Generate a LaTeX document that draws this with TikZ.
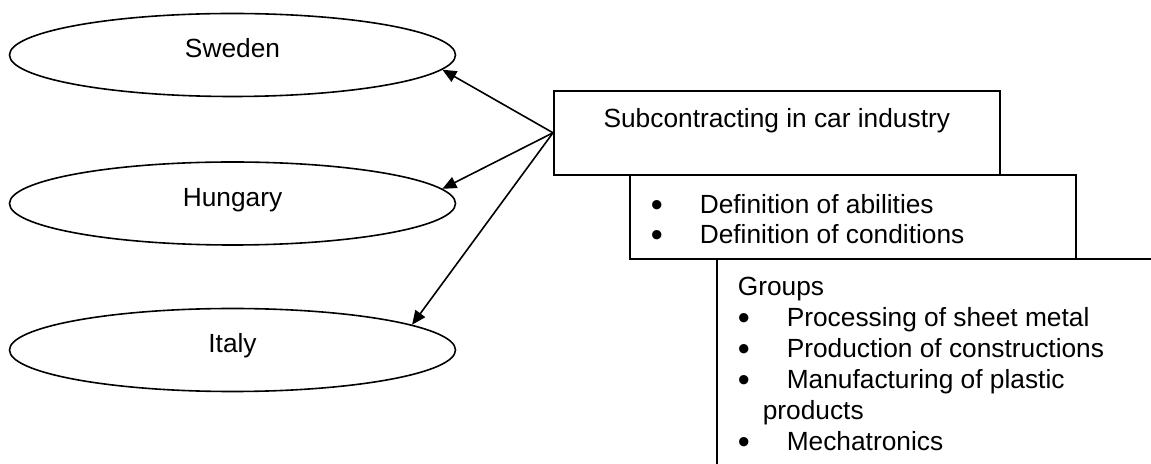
\documentclass[tikz,border=0pt]{standalone}
\usepackage{fontspec}
\usepackage{graphicx}
\setmainfont{Liberation Sans}
\usetikzlibrary{shapes.geometric,arrows.meta}

% a slightly enlarged bullet, kept at the usual height
\newcommand\bigbullet{\raisebox{-1.4pt}{\scalebox{1.3}{•}}}
% one bulleted line: bullet centred 13.5pt in, text starting 35pt in
\newcommand\bulletline[1]{\makebox[35pt][l]{\hspace*{13.5pt}\makebox[0pt][c]{\bigbullet}}#1}

\begin{document}
\begin{tikzpicture}[x=0.5pt,y=-0.5pt,
  every node/.style={font=\fontsize{13.15pt}{15pt}\selectfont},
  country/.style={draw, ellipse, line width=0.8pt, minimum width=223pt,
    minimum height=41.5pt, inner sep=0pt, text height=9pt, text depth=6pt},
  panel/.style={draw, rectangle, line width=0.8pt, inner sep=0pt, anchor=north west},
  link/.style={line width=0.8pt, -{Triangle[length=7pt,width=6pt]}}]
\useasboundingbox (0,0) rectangle (1151,464);
\clip (0,0) rectangle (1151,464);

% countries
\node[country] (sweden)  at (232.5,55)    {Sweden};
\node[country] (hungary) at (232.5,203.5) {Hungary};
\node[country] (italy)   at (232.5,350)   {Italy};

% stepped panels
\node[panel] (car) at (553,90)
  {\parbox[t][42pt][t]{223pt}{\centering\rule{0pt}{18.5pt}Subcontracting in car industry}};
\node[panel] (defs) at (629,174)
  {\parbox[t][42pt][t]{223pt}{\raggedright\rule{0pt}{19.5pt}%
    \bulletline{Definition of abilities}\\
    \bulletline{Definition of conditions}}};
\node[panel] (groups) at (716,258)
  {\parbox[t][120pt][t]{250pt}{\fontsize{13.15pt}{15.5pt}\selectfont\raggedright
    \rule{0pt}{18.5pt}\hspace*{10.5pt}Groups\\
    \bulletline{Processing of sheet metal}\\
    \bulletline{Production of constructions}\\
    \bulletline{Manufacturing of plastic}\\
    \hspace*{23pt}products\\
    \bulletline{Mechatronics}}};

% links to the countries
\draw[link] (car.west) -- (sweden.-4.2);
\draw[link] (car.west) -- (hungary.4.4);
\draw[link] (car.west) -- (italy.8.5);
\end{tikzpicture}
\end{document}
